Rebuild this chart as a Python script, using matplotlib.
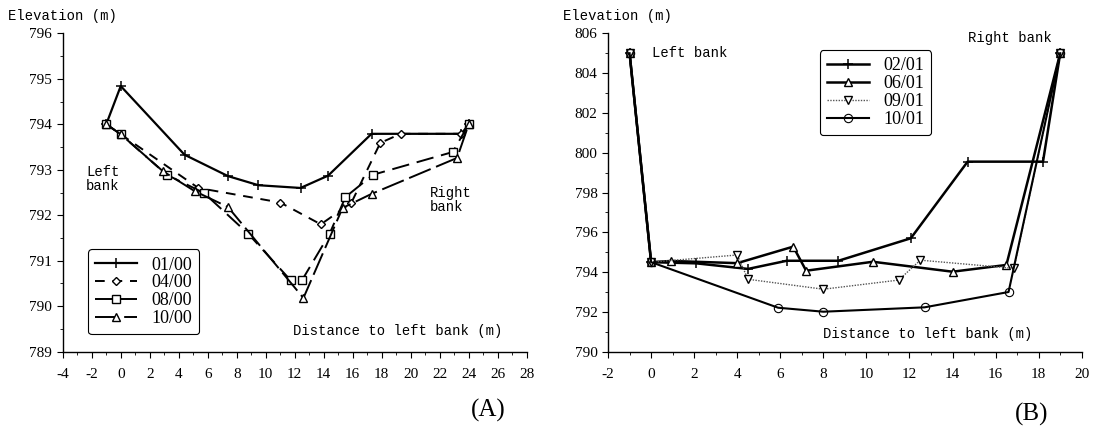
import matplotlib
matplotlib.use("Agg")
import matplotlib.pyplot as plt
from matplotlib.ticker import MultipleLocator

plt.rcParams['font.family'] = 'Liberation Serif'
plt.rcParams['axes.unicode_minus'] = False

# Panel A: cross sections in 2000
a_labels = ['01/00', '04/00', '08/00', '10/00']
a_x_0100 = [-1, 0, 4.4, 7.4, 9.5, 12.4, 14.3, 17.3, 23.5, 24]
a_y_0100 = [794, 794.84, 793.33, 792.86, 792.66, 792.6, 792.87, 793.79, 793.79, 794]
a_x_0400 = [-1, 0, 5.35, 11.0, 13.8, 15.9, 17.9, 19.3, 23.5, 24]
a_y_0400 = [794, 793.78, 792.6, 792.28, 791.8, 792.27, 793.59, 793.79, 793.79, 794]
a_x_0800 = [-1, 0, 3.17, 5.74, 8.8, 11.72, 12.5, 14.4, 15.5, 17.4, 22.9, 24]
a_y_0800 = [794, 793.78, 792.89, 792.49, 791.59, 790.57, 790.57, 791.59, 792.4, 792.89, 793.39, 794]
a_x_1000 = [-1, 0, 2.9, 5.1, 7.4, 12.6, 15.3, 17.3, 23.2, 24]
a_y_1000 = [794, 793.78, 792.97, 792.53, 792.18, 790.18, 792.16, 792.47, 793.26, 794]

# Panel B: cross sections in 2001
b_labels = ['02/01', '06/01', '09/01', '10/01']
b_x_0201 = [-1, 0, 2.1, 4.5, 6.3, 8.7, 12.06, 14.7, 18.2, 19]
b_y_0201 = [805, 794.5, 794.44, 794.16, 794.57, 794.57, 795.7, 799.55, 799.55, 805]
b_x_0601 = [-1, 0, 0.93, 4.0, 6.6, 7.2, 10.3, 14.0, 16.5, 19]
b_y_0601 = [805, 794.5, 794.56, 794.45, 795.28, 794.07, 794.52, 794.02, 794.36, 805]
b_x_0901 = [-1, 0, 4.0, 4.5, 8.0, 11.5, 12.5, 16.85, 19]
b_y_0901 = [805, 794.5, 794.86, 793.64, 793.14, 793.6, 794.6, 794.19, 805]
b_x_1001 = [-1, 0, 5.9, 8.0, 12.7, 16.6, 19]
b_y_1001 = [805, 794.5, 792.21, 792.01, 792.23, 793.0, 805]

mono = 'Liberation Mono'

fig = plt.figure(figsize=(10.95, 4.34), dpi=100)
axA = fig.add_axes([0.0573, 0.1896, 0.4237, 0.7337])
axB = fig.add_axes([0.5553, 0.1896, 0.4326, 0.7337])

def style_axis(ax):
    for s in ['top', 'right']:
        ax.spines[s].set_visible(False)
    ax.spines['left'].set_linewidth(1.0)
    ax.spines['bottom'].set_linewidth(1.0)
    ax.tick_params(which='major', direction='out', length=4, labelsize=11, width=0.8)
    ax.tick_params(which='minor', direction='out', length=2, width=0.6)
    ax.tick_params(axis='x', pad=8)

# ---- Panel A ----
axA.plot(a_x_0100, a_y_0100, color='black', lw=1.6, marker='+', ms=7, mew=1.1, label=a_labels[0])
axA.plot(a_x_0400, a_y_0400, color='black', lw=1.4, ls=(0, (5, 4)), marker='D', ms=4.5,
         mfc='white', mew=1.0, label=a_labels[1])
axA.plot(a_x_0800, a_y_0800, color='black', lw=1.4, ls=(0, (9, 4)), marker='s', ms=6,
         mfc='white', mew=1.0, label=a_labels[2])
axA.plot(a_x_1000, a_y_1000, color='black', lw=1.4, ls=(0, (12, 3)), marker='^', ms=5.5,
         mfc='white', mew=1.0, label=a_labels[3])
axA.set_xlim(-4, 28)
axA.set_ylim(789, 796)
axA.xaxis.set_major_locator(MultipleLocator(2))
axA.xaxis.set_minor_locator(MultipleLocator(1))
axA.yaxis.set_major_locator(MultipleLocator(1))
axA.yaxis.set_minor_locator(MultipleLocator(0.5))
style_axis(axA)

axA.text(-2.4, 792.8, 'Left\nbank', family=mono, fontsize=10, va='center', ha='left',
         linespacing=1.0)
axA.text(21.3, 792.34, 'Right\nbank', family=mono, fontsize=10, va='center', ha='left',
         linespacing=1.0)
axA.text(11.9, 789.45, 'Distance to left bank (m)', family=mono, fontsize=10, va='center')
fig.text(0.007, 0.963, 'Elevation (m)', family=mono, fontsize=10, va='center')
fig.text(0.446, 0.055, '(A)', fontsize=18, va='center', ha='center')

legA = axA.legend(loc='upper left', bbox_to_anchor=(0.035, 0.35), fontsize=13,
                  handlelength=2.3, labelspacing=0.05, borderpad=0.4, handletextpad=0.8,
                  frameon=True, fancybox=True, framealpha=1)
legA.get_frame().set_edgecolor('black')
legA.get_frame().set_linewidth(0.8)

# ---- Panel B ----
axB.plot(b_x_0201, b_y_0201, color='black', lw=1.8, marker='+', ms=7, mew=1.1, label=b_labels[0])
axB.plot(b_x_0601, b_y_0601, color='black', lw=1.8, marker='^', ms=5.5, mfc='white',
         mew=1.0, label=b_labels[1])
axB.plot(b_x_0901, b_y_0901, color='#555555', lw=1.0, ls=(0, (1, 1)), marker='v', ms=5.5,
         mfc='white', mec='black', mew=1.0, label=b_labels[2])
axB.plot(b_x_1001, b_y_1001, color='black', lw=1.5, marker='o', ms=6, mfc='none',
         mew=0.8, label=b_labels[3])
axB.set_xlim(-2, 20)
axB.set_ylim(790, 806)
axB.xaxis.set_major_locator(MultipleLocator(2))
axB.xaxis.set_minor_locator(MultipleLocator(1))
axB.yaxis.set_major_locator(MultipleLocator(2))
axB.yaxis.set_minor_locator(MultipleLocator(1))
style_axis(axB)

axB.text(0.05, 805.0, 'Left bank', family=mono, fontsize=10, va='center', ha='left')
axB.text(14.7, 805.75, 'Right bank', family=mono, fontsize=10, va='center', ha='left')
axB.text(8.0, 790.9, 'Distance to left bank (m)', family=mono, fontsize=10, va='center')
fig.text(0.514, 0.963, 'Elevation (m)', family=mono, fontsize=10, va='center')
fig.text(0.942, 0.045, '(B)', fontsize=18, va='center', ha='center')

legB = axB.legend(loc='upper left', bbox_to_anchor=(0.428, 0.975), fontsize=13,
                  handlelength=2.3, labelspacing=0.05, borderpad=0.4, handletextpad=0.8,
                  frameon=True, fancybox=True, framealpha=1)
legB.get_frame().set_edgecolor('black')
legB.get_frame().set_linewidth(0.8)

fig.savefig('out.png', dpi=100, facecolor='white')
